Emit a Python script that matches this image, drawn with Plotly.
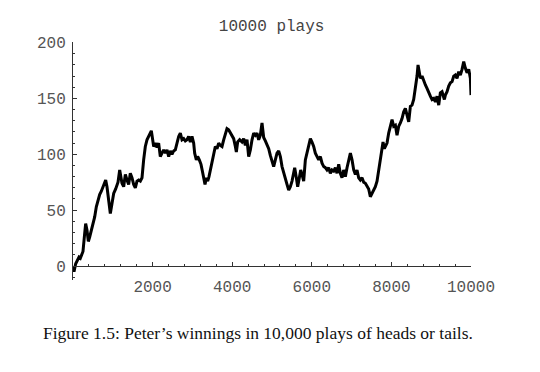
import plotly.graph_objects as go

# Peter's cumulative winnings
plays = [0, 25, 67, 101, 151, 184, 218, 251, 293, 318, 352, 385, 419, 461, 503, 545, 586, 628, 670,
         712, 754, 796, 821, 854, 896, 938, 980, 1022, 1072, 1131, 1173, 1231, 1273, 1315, 1357, 1398,
         1440, 1482, 1524, 1566, 1608, 1650, 1692, 1734, 1775, 1817, 1859, 1901, 1943, 1968, 2002,
         2027, 2069, 2110, 2152, 2194, 2236, 2278, 2320, 2362, 2404, 2446, 2487, 2529, 2571, 2613,
         2655, 2697, 2739, 2781, 2822, 2864,
         2906, 2948, 2990, 3032, 3057, 3099, 3132, 3174, 3216, 3250, 3283, 3317, 3350, 3384, 3417,
         3451, 3492, 3534, 3576, 3618, 3660, 3702, 3744, 3786, 3828, 3869, 3911, 3953, 3995, 4037,
         4079, 4104, 4137, 4188, 4246, 4288, 4330, 4372, 4414, 4456, 4498, 4540, 4582, 4623, 4665,
         4707, 4749, 4791, 4833, 4875, 4917, 4958, 5000, 5042, 5084, 5126, 5168, 5210, 5252, 5293,
         5335, 5377, 5419, 5461, 5503, 5545, 5570, 5612, 5645, 5687, 5721, 5754, 5796, 5838, 5880,
         5922, 5964, 6005, 6047, 6089, 6131, 6173, 6215, 6257, 6299, 6341, 6382, 6424, 6466, 6508,
         6550, 6592, 6634, 6676, 6717, 6759, 6801, 6843, 6885, 6927, 6969, 7011, 7053, 7095, 7136,
         7178, 7220, 7262, 7304, 7346, 7388, 7429, 7471, 7513, 7555, 7597, 7639, 7681, 7723, 7765,
         7790, 7823, 7857, 7890, 7932, 7974, 8016, 8058, 8100, 8141, 8183, 8225, 8267, 8309, 8351,
         8393, 8435, 8477, 8518, 8560, 8602, 8644, 8669, 8703, 8728, 8770, 8812, 8854, 8895, 8937,
         8979, 9021, 9063, 9105, 9147, 9189, 9230, 9272, 9297, 9331, 9356, 9398, 9440, 9482, 9524,
         9566, 9607, 9649, 9691, 9733, 9775, 9817, 9859, 9901, 9943, 9984, 10000]

winnings = [0, -5, 2, 5, 8, 7, 10, 13, 29, 38, 32, 22, 26, 32, 40, 44, 53, 59, 64,
            67, 71, 75, 77, 71, 61, 47, 56, 65, 69, 75, 86, 74, 71, 82, 77, 73,
            83, 79, 73, 70, 76, 77, 76, 79, 95, 107, 113, 116, 119, 121, 113,
            107, 110, 106, 110, 98, 101, 104, 101, 104, 98, 103, 100, 103, 104, 110,
            116, 119, 113, 114, 112, 113,
            116, 111, 116, 110, 101, 95, 98, 95, 91, 85, 80, 73, 79, 76, 80,
            86, 92, 102, 107, 105, 110, 108, 107, 113, 119, 123, 122, 119, 116, 114,
            107, 102, 111, 113, 111, 114, 108, 113, 98, 104, 113, 119, 117, 119, 113,
            117, 128, 115, 112, 109, 105, 99, 94, 89, 95, 101, 103, 98, 89, 83,
            77, 73, 68, 71, 76, 83, 88, 79, 71, 79, 86, 82, 76, 95, 101,
            107, 114, 111, 107, 101, 98, 95, 98, 92, 89, 88, 86, 88, 83, 86,
            85, 88, 83, 91, 83, 79, 86, 80, 88, 95, 101, 95, 86, 82, 86,
            79, 77, 79, 75, 74, 72, 69, 62, 65, 67, 71, 76, 86, 95, 107,
            111, 105, 107, 110, 119, 126, 131, 125, 126, 117, 125, 128, 132, 138, 141,
            135, 129, 143, 144, 149, 158, 170, 180, 171, 168, 170, 165, 162, 159, 155,
            152, 149, 150, 147, 152, 144, 155, 156, 152, 149, 153, 156, 161, 164, 165,
            170, 171, 168, 174, 171, 176, 183, 177, 173, 176, 168, 153]

x_ticks = [2000, 4000, 6000, 8000, 10000]
y_ticks = [0, 50, 100, 150, 200]

title_text = "10000 plays"
caption_text = "Figure 1.5: Peter’s winnings in 10,000 plays of heads or tails."

y_min, y_max = -12.5, 200.5
x_min, x_max = 0, 10000

mono = dict(family="Liberation Mono, Courier New, monospace", size=16, color="#555555")

fig = go.Figure()
fig.add_trace(go.Scatter(x=plays, y=winnings, mode="lines",
                         line=dict(color="black", width=3), hoverinfo="skip"))

fig.update_layout(
    width=540, height=372,
    margin=dict(l=73, r=69, t=42, b=92, autoexpand=False),
    paper_bgcolor="white", plot_bgcolor="white",
    showlegend=False,
    title=dict(text=title_text, x=0.503, xref="container", xanchor="center",
               y=1 - 25 / 372, yref="container", yanchor="middle",
               font=dict(family="Liberation Mono, Courier New, monospace", size=16, color="#444444")),
    font=mono,
)

fig.update_xaxes(
    range=[x_min, x_max], showgrid=False, zeroline=False,
    anchor="free", position=(0 - y_min) / (y_max - y_min),
    showline=True, linecolor="#333333", linewidth=1,
    tickmode="array", tickvals=x_ticks, ticktext=[str(v) for v in x_ticks],
    ticks="inside", ticklen=4, tickcolor="#333333", tickwidth=1,
    ticklabelstandoff=6,
    minor=dict(dtick=400, ticks="inside", ticklen=2, tickcolor="#333333", tickwidth=1, showgrid=False),
    tickfont=mono,
)
fig.update_yaxes(
    range=[y_min, y_max], showgrid=False, zeroline=False,
    showline=True, linecolor="#333333", linewidth=1,
    tickmode="array", tickvals=y_ticks, ticktext=[str(v) for v in y_ticks],
    ticks="inside", ticklen=4, tickcolor="#333333", tickwidth=1,
    ticklabelstandoff=3,
    minor=dict(dtick=10, tick0=0, ticks="inside", ticklen=2, tickcolor="#333333", tickwidth=1, showgrid=False),
    tickfont=mono,
)

fig.add_annotation(
    text=caption_text, xref="paper", yref="paper",
    x=(258 - 73) / 398, y=(280 - 333) / 238, xanchor="center", yanchor="middle",
    showarrow=False,
    font=dict(family="Liberation Serif, Times New Roman, serif", size=17.5, color="#111111"),
)

fig.write_html("out.html", config={"displayModeBar": False},
               post_script="document.body.style.margin='0';")
